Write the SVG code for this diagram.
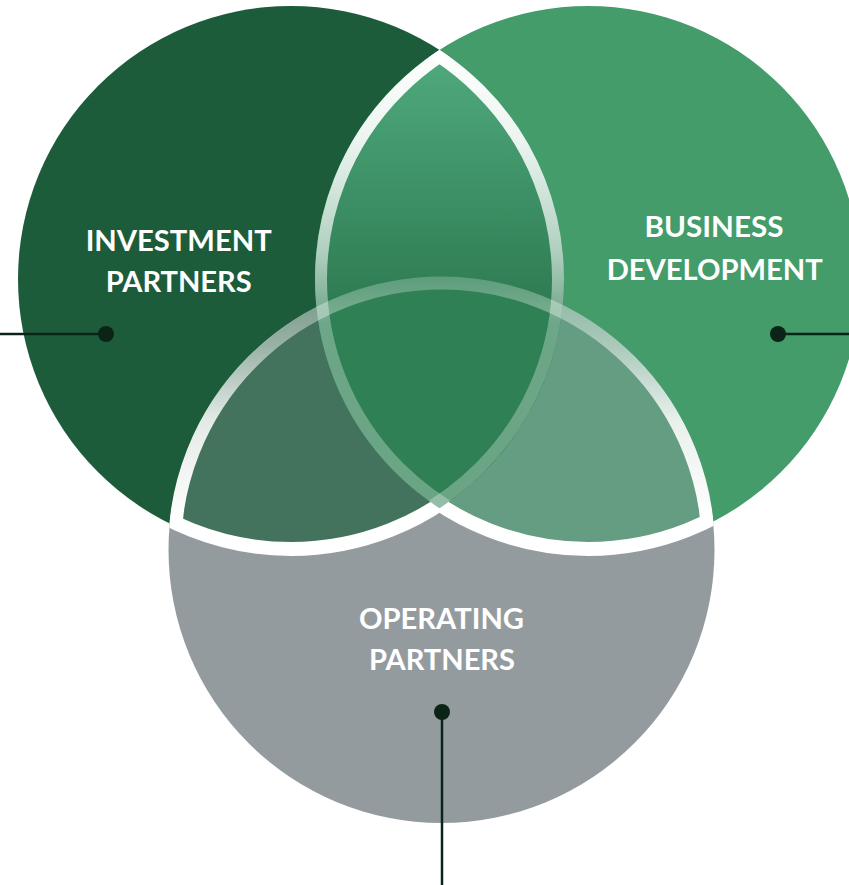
<svg xmlns="http://www.w3.org/2000/svg" width="849" height="885" viewBox="0 0 849 885">
<style>
.lbl{font-family:Lato,"Open Sans","Liberation Sans",sans-serif;font-weight:700;font-size:29px;fill:#ffffff;text-anchor:middle}
.con{stroke:#0c2418;stroke-width:2.5;fill:none}
.dot{fill:#0c2418}
</style>
<defs>
<clipPath id="cL"><circle cx="291" cy="279" r="273"/></clipPath>
<clipPath id="cR"><circle cx="588" cy="279" r="273"/></clipPath>
<clipPath id="cLR"><circle cx="291" cy="279" r="273"/><circle cx="588" cy="279" r="273"/></clipPath>
<mask id="mBnotR" maskUnits="userSpaceOnUse" x="0" y="0" width="849" height="885"><circle cx="441.5" cy="550" r="273" fill="#fff"/><circle cx="588" cy="279" r="273" fill="#000"/></mask>
<mask id="mBnotL" maskUnits="userSpaceOnUse" x="0" y="0" width="849" height="885"><circle cx="441.5" cy="550" r="273" fill="#fff"/><circle cx="291" cy="279" r="273" fill="#000"/></mask>
<linearGradient id="gTop" gradientUnits="userSpaceOnUse" x1="0" y1="55" x2="0" y2="300">
<stop offset="0" stop-color="#4faa7d"/><stop offset="1" stop-color="#2f7c53"/>
</linearGradient>
<linearGradient id="gArc" gradientUnits="userSpaceOnUse" x1="0" y1="45" x2="0" y2="510">
<stop offset="0" stop-color="#fff" stop-opacity="1"/>
<stop offset="0.2" stop-color="#fff" stop-opacity="0.9"/>
<stop offset="0.45" stop-color="#fff" stop-opacity="0.6"/>
<stop offset="0.6" stop-color="#fff" stop-opacity="0.3"/>
<stop offset="1" stop-color="#fff" stop-opacity="0.28"/>
</linearGradient>
<linearGradient id="gB" gradientUnits="userSpaceOnUse" x1="0" y1="270" x2="0" y2="520">
<stop offset="0" stop-color="#fff" stop-opacity="0.2"/>
<stop offset="0.3" stop-color="#fff" stop-opacity="0.45"/>
<stop offset="0.6" stop-color="#fff" stop-opacity="0.85"/>
<stop offset="1" stop-color="#fff" stop-opacity="1"/>
</linearGradient>
</defs>

<g id="node-investment">
<circle cx="291" cy="279" r="273" fill="#1c5c3b"/>
<text class="lbl" x="178.7" y="250.7" textLength="186" lengthAdjust="spacingAndGlyphs">INVESTMENT</text>
<text class="lbl" x="178.7" y="292.3" textLength="146" lengthAdjust="spacingAndGlyphs">PARTNERS</text>
</g>
<g id="node-business">
<circle cx="588" cy="279" r="273" fill="#439c6a"/>
<text class="lbl" x="714" y="237.3" textLength="139" lengthAdjust="spacingAndGlyphs">BUSINESS</text>
<text class="lbl" x="714.7" y="280" textLength="216" lengthAdjust="spacingAndGlyphs">DEVELOPMENT</text>
</g>
<g id="node-operating">
<circle cx="441.5" cy="550" r="273" fill="#949b9f"/>
<text class="lbl" x="441.5" y="629" textLength="165" lengthAdjust="spacingAndGlyphs">OPERATING</text>
<text class="lbl" x="442" y="670" textLength="146" lengthAdjust="spacingAndGlyphs">PARTNERS</text>
</g>

<g id="overlaps">
<circle cx="441.5" cy="550" r="273" fill="#44735d" clip-path="url(#cL)"/>
<circle cx="441.5" cy="550" r="273" fill="#659d82" clip-path="url(#cR)"/>
<circle cx="588" cy="279" r="273" fill="url(#gTop)" clip-path="url(#cL)"/>
<g clip-path="url(#cL)"><circle cx="441.5" cy="550" r="273" fill="#2f8155" clip-path="url(#cR)"/></g>
<circle cx="441.5" cy="550" r="267" fill="none" stroke="url(#gB)" stroke-width="13" clip-path="url(#cLR)"/>
<circle cx="291" cy="279" r="267" fill="none" stroke="url(#gArc)" stroke-width="12" clip-path="url(#cR)"/>
<circle cx="588" cy="279" r="267" fill="none" stroke="url(#gArc)" stroke-width="12" clip-path="url(#cL)"/>
<circle cx="291" cy="279" r="270" fill="none" stroke="#fff" stroke-width="14" mask="url(#mBnotR)"/>
<circle cx="588" cy="279" r="270" fill="none" stroke="#fff" stroke-width="14" mask="url(#mBnotL)"/>
</g>

<g id="connectors">
<line class="con" x1="0" y1="334" x2="106" y2="334"/>
<circle class="dot" cx="106" cy="334" r="8"/>
<line class="con" x1="778" y1="334" x2="849" y2="334"/>
<circle class="dot" cx="778" cy="334" r="8"/>
<line class="con" x1="442" y1="712" x2="442" y2="885"/>
<circle class="dot" cx="442" cy="712" r="8"/>
</g>
</svg>
